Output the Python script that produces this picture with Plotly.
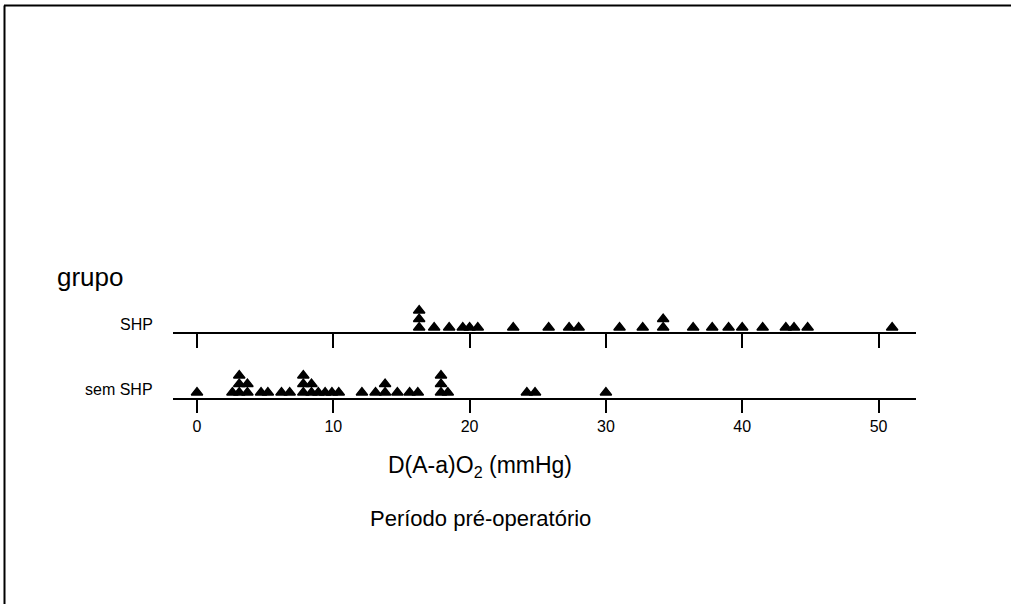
import plotly.graph_objects as go

# D(A-a)O2 (mmHg), pre-operative period, by group
groups = ["sem SHP", "SHP"]
shp_values = [16.3, 16.3, 16.3, 17.4, 18.5, 19.5, 20.0, 20.6, 23.2, 25.8, 27.3, 28.0,
              31.0, 32.7, 34.2, 34.2, 36.4, 37.8, 39.0, 40.0, 41.5, 43.2, 43.8, 44.8, 51.0]
sem_shp_values = [0.0, 2.6, 3.1, 3.1, 3.1, 3.7, 3.7, 4.7, 5.2, 6.2, 6.8, 7.8, 7.8, 7.8,
                  8.4, 8.4, 8.9, 9.4, 9.9, 10.4, 12.1, 13.1, 13.8, 13.8, 14.7, 15.6, 16.2,
                  17.9, 17.9, 17.9, 18.4, 24.2, 24.8, 30.0]
tick_values = [0, 10, 20, 30, 40, 50]

W, H = 1011, 604
L, R, T, B = 173, 95, 140, 206          # plot area: x 173..916, y 140..398
PLOT_H = H - T - B
ROW_GAP = 65                            # vertical distance between group lines (px)
MARK_OFFSET = 5.5                       # first symbol above its line
STACK_STEP = 8.5                        # spacing of stacked symbols
FONT = "Liberation Sans, Arial, sans-serif"


def px_x(px):
    return (px - L) / (W - L - R)


def px_y(py):
    return (H - B - py) / PLOT_H


def stacked(values, base):
    seen = {}
    ys = []
    for v in values:
        k = seen.get(v, 0)
        seen[v] = k + 1
        ys.append(base + MARK_OFFSET + k * STACK_STEP)
    return ys


marker = dict(symbol="triangle-up", size=10, color="black",
              line=dict(color="black", width=1.3))

fig = go.Figure()
fig.add_trace(go.Scatter(x=sem_shp_values, y=stacked(sem_shp_values, 0), mode="markers",
                         marker=marker, name=groups[0], xaxis="x", yaxis="y",
                         hoverinfo="x"))
fig.add_trace(go.Scatter(x=shp_values, y=stacked(shp_values, ROW_GAP), mode="markers",
                         marker=marker, name=groups[1], xaxis="x2", yaxis="y",
                         hoverinfo="x"))

x_range = [-1.76, 52.75]
axis_common = dict(range=x_range, showline=True, linecolor="black", linewidth=2,
                   ticks="outside", tickcolor="black", tickwidth=2,
                   tickvals=tick_values, showgrid=False, zeroline=False,
                   fixedrange=True)

fig.update_layout(
    width=W, height=H,
    margin=dict(l=L, r=R, t=T, b=B),
    paper_bgcolor="white", plot_bgcolor="white",
    showlegend=False,
    font=dict(family=FONT, color="black"),
    xaxis=dict(**axis_common, ticklen=13, anchor="y",
               tickfont=dict(size=16, family=FONT, color="black")),
    xaxis2=dict(**axis_common, ticklen=14, overlaying="x", anchor="free",
                position=ROW_GAP / PLOT_H, side="bottom", showticklabels=False),
    yaxis=dict(range=[0, PLOT_H], visible=False, fixedrange=True),
)

# group labels
fig.add_annotation(text="grupo", x=px_x(55), y=px_y(277), xref="paper", yref="paper",
                   xanchor="left", yanchor="middle", showarrow=False,
                   font=dict(size=26, family=FONT))
for i, g in enumerate(groups):
    fig.add_annotation(text=g, x=px_x(155), y=i * ROW_GAP + 9, xref="paper", yref="y",
                       xanchor="right", yanchor="middle", showarrow=False,
                       font=dict(size=16, family=FONT))

# axis titles
fig.add_annotation(text="D(A-a)O<sub>2</sub> (mmHg)", x=px_x(480), y=px_y(466),
                   xref="paper", yref="paper", xanchor="center", yanchor="middle",
                   showarrow=False, font=dict(size=23, family=FONT))
fig.add_annotation(text="Período pré-operatório", x=px_x(480), y=px_y(518),
                   xref="paper", yref="paper", xanchor="center", yanchor="middle",
                   showarrow=False, font=dict(size=22, family=FONT))

# outer frame (top and left edges)
fig.add_shape(type="line", xref="paper", yref="paper",
              x0=px_x(4), x1=px_x(W + 2), y0=px_y(5.5), y1=px_y(5.5),
              line=dict(color="black", width=2))
fig.add_shape(type="line", xref="paper", yref="paper",
              x0=px_x(4.5), x1=px_x(4.5), y0=px_y(5.5), y1=px_y(H + 2),
              line=dict(color="black", width=2))

fig.write_html("out.html")
